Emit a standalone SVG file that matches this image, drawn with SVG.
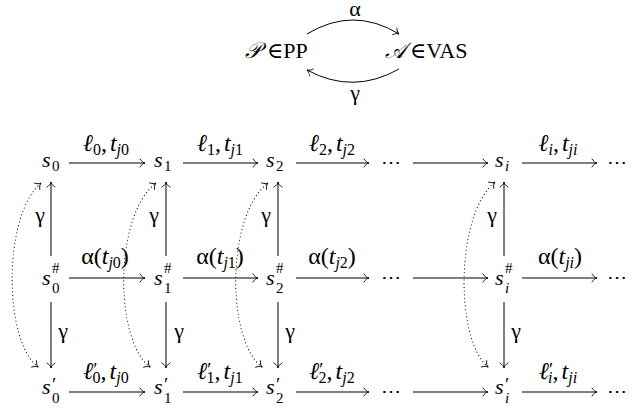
<svg xmlns="http://www.w3.org/2000/svg" width="641" height="413" viewBox="0 0 641 413">
<defs>
<marker id="to" markerUnits="userSpaceOnUse" markerWidth="12" markerHeight="12" viewBox="-7 -6 9 12" refX="0" refY="0" orient="auto-start-reverse">
<path d="M-5,-4 C-3.5,-1.5 -1.5,-0.3 0,0 C-1.5,0.3 -3.5,1.5 -5,4" fill="none" stroke="#000" stroke-width="0.9" stroke-linecap="round"/>
</marker>
<style>
text{font-family:'Liberation Serif','DejaVu Serif',serif;font-size:22px;fill:#000}
.lb{font-size:24px}
.i{font-style:italic}
.s{font-size:15px}
.lb .s{font-size:16px}
.pr{font-size:19px}
.dots{font-size:20px}
.ar{stroke:#000;stroke-width:1;fill:none;marker-end:url(#to)}
.dt{stroke:#000;stroke-width:1.1;fill:none;stroke-dasharray:0.1 3.6;stroke-linecap:round;marker-start:url(#to);marker-end:url(#to)}
</style>
</defs>
<rect width="641" height="413" fill="#fff"/>

<g id="P"><text x="245" y="58"><tspan class="i">𝒫</tspan><tspan dx="6">∈PP</tspan></text></g>
<g id="A"><text x="385" y="58"><tspan class="i">𝒜</tspan><tspan dx="4">∈VAS</tspan></text></g>

<g id="s0"><text class="i" x="42" y="167">s</text><text class="s" x="52" y="171">0</text></g>
<g id="s1"><text class="i" x="154" y="167">s</text><text class="s" x="164" y="171">1</text></g>
<g id="s2"><text class="i" x="266" y="167">s</text><text class="s" x="276" y="171">2</text></g>
<g id="d1"><text class="dots" x="391" y="169" text-anchor="middle">⋯</text></g>
<g id="si"><text class="i" x="495" y="167">s</text><text class="s i" x="505" y="171">i</text></g>
<g id="e1"><text class="dots" x="617" y="169" text-anchor="middle">⋯</text></g>

<g id="h0"><text class="i" x="42" y="285">s</text><text class="s" x="52" y="273">#</text><text class="s" x="52" y="293">0</text></g>
<g id="h1"><text class="i" x="154" y="285">s</text><text class="s" x="164" y="273">#</text><text class="s" x="164" y="293">1</text></g>
<g id="h2"><text class="i" x="266" y="285">s</text><text class="s" x="276" y="273">#</text><text class="s" x="276" y="293">2</text></g>
<g id="d2"><text class="dots" x="391" y="284" text-anchor="middle">⋯</text></g>
<g id="hi"><text class="i" x="495" y="285">s</text><text class="s" x="505" y="273">#</text><text class="s i" x="505" y="293">i</text></g>
<g id="e2"><text class="dots" x="617" y="284" text-anchor="middle">⋯</text></g>

<g id="p0"><text class="i" x="42" y="394">s</text><text class="pr" x="52" y="391">′</text><text class="s" x="52" y="403">0</text></g>
<g id="p1"><text class="i" x="154" y="394">s</text><text class="pr" x="164" y="391">′</text><text class="s" x="164" y="403">1</text></g>
<g id="p2"><text class="i" x="266" y="394">s</text><text class="pr" x="276" y="391">′</text><text class="s" x="276" y="403">2</text></g>
<g id="d3"><text class="dots" x="391" y="398" text-anchor="middle">⋯</text></g>
<g id="pi"><text class="i" x="495" y="394">s</text><text class="pr" x="505" y="391">′</text><text class="s i" x="505" y="403">i</text></g>
<g id="e3"><text class="dots" x="617" y="398" text-anchor="middle">⋯</text></g>

<g id="connectors">
<path class="ar" d="M307,34 Q353,6 399,34"/>
<path class="ar" d="M399,69 Q353,95 307,70"/>
<text x="355" y="16" text-anchor="middle">α</text>
<text x="355" y="100" text-anchor="middle">γ</text>

<line class="ar" x1="69" y1="163" x2="145" y2="163"/>
<line class="ar" x1="183" y1="163" x2="258" y2="163"/>
<line class="ar" x1="296" y1="163" x2="369" y2="163"/>
<line class="ar" x1="413" y1="163" x2="488" y2="163"/>
<line class="ar" x1="522" y1="163" x2="597" y2="163"/>

<line class="ar" x1="69" y1="278" x2="145" y2="278"/>
<line class="ar" x1="183" y1="278" x2="258" y2="278"/>
<line class="ar" x1="296" y1="278" x2="369" y2="278"/>
<line class="ar" x1="413" y1="278" x2="488" y2="278"/>
<line class="ar" x1="522" y1="278" x2="597" y2="278"/>

<line class="ar" x1="69" y1="392" x2="145" y2="392"/>
<line class="ar" x1="183" y1="392" x2="258" y2="392"/>
<line class="ar" x1="296" y1="392" x2="369" y2="392"/>
<line class="ar" x1="413" y1="392" x2="488" y2="392"/>
<line class="ar" x1="522" y1="392" x2="597" y2="392"/>

<text class="lb" x="106" y="151" text-anchor="middle"><tspan class="i">ℓ</tspan><tspan class="s" dy="4">0</tspan><tspan dy="-4">,</tspan><tspan class="i" dx="3">t</tspan><tspan class="s i" dy="4">j</tspan><tspan class="s">0</tspan></text>
<text class="lb" x="220" y="151" text-anchor="middle"><tspan class="i">ℓ</tspan><tspan class="s" dy="4">1</tspan><tspan dy="-4">,</tspan><tspan class="i" dx="3">t</tspan><tspan class="s i" dy="4">j</tspan><tspan class="s">1</tspan></text>
<text class="lb" x="332" y="151" text-anchor="middle"><tspan class="i">ℓ</tspan><tspan class="s" dy="4">2</tspan><tspan dy="-4">,</tspan><tspan class="i" dx="3">t</tspan><tspan class="s i" dy="4">j</tspan><tspan class="s">2</tspan></text>
<text class="lb" x="558" y="151" text-anchor="middle"><tspan class="i">ℓ</tspan><tspan class="s i" dy="4">i</tspan><tspan dy="-4">,</tspan><tspan class="i" dx="3">t</tspan><tspan class="s i" dy="4">ji</tspan></text>

<text class="lb" x="105" y="264" text-anchor="middle">α(<tspan class="i">t</tspan><tspan class="s i" dy="4">j</tspan><tspan class="s">0</tspan><tspan dy="-4">)</tspan></text>
<text class="lb" x="220" y="264" text-anchor="middle">α(<tspan class="i">t</tspan><tspan class="s i" dy="4">j</tspan><tspan class="s">1</tspan><tspan dy="-4">)</tspan></text>
<text class="lb" x="332" y="264" text-anchor="middle">α(<tspan class="i">t</tspan><tspan class="s i" dy="4">j</tspan><tspan class="s">2</tspan><tspan dy="-4">)</tspan></text>
<text class="lb" x="560" y="264" text-anchor="middle">α(<tspan class="i">t</tspan><tspan class="s i" dy="4">ji</tspan><tspan dy="-4">)</tspan></text>

<text class="lb" x="106" y="379" text-anchor="middle"><tspan class="i">ℓ</tspan><tspan class="pr" dy="-3">′</tspan><tspan class="s" dx="-5" dy="7">0</tspan><tspan dy="-4">,</tspan><tspan class="i" dx="3">t</tspan><tspan class="s i" dy="4">j</tspan><tspan class="s">0</tspan></text>
<text class="lb" x="220" y="379" text-anchor="middle"><tspan class="i">ℓ</tspan><tspan class="pr" dy="-3">′</tspan><tspan class="s" dx="-5" dy="7">1</tspan><tspan dy="-4">,</tspan><tspan class="i" dx="3">t</tspan><tspan class="s i" dy="4">j</tspan><tspan class="s">1</tspan></text>
<text class="lb" x="332" y="379" text-anchor="middle"><tspan class="i">ℓ</tspan><tspan class="pr" dy="-3">′</tspan><tspan class="s" dx="-5" dy="7">2</tspan><tspan dy="-4">,</tspan><tspan class="i" dx="3">t</tspan><tspan class="s i" dy="4">j</tspan><tspan class="s">2</tspan></text>
<text class="lb" x="558" y="379" text-anchor="middle"><tspan class="i">ℓ</tspan><tspan class="pr" dy="-3">′</tspan><tspan class="s i" dx="-5" dy="7">i</tspan><tspan dy="-4">,</tspan><tspan class="i" dx="3">t</tspan><tspan class="s i" dy="4">ji</tspan></text>

<line class="ar" x1="51" y1="256" x2="51" y2="182"/>
<line class="ar" x1="166" y1="256" x2="166" y2="182"/>
<line class="ar" x1="278" y1="256" x2="278" y2="182"/>
<line class="ar" x1="504" y1="256" x2="504" y2="182"/>
<line class="ar" x1="51" y1="302" x2="51" y2="368"/>
<line class="ar" x1="166" y1="302" x2="166" y2="368"/>
<line class="ar" x1="278" y1="302" x2="278" y2="368"/>
<line class="ar" x1="504" y1="302" x2="504" y2="368"/>

<text x="40" y="222" text-anchor="middle">γ</text>
<text x="154" y="222" text-anchor="middle">γ</text>
<text x="266" y="222" text-anchor="middle">γ</text>
<text x="492" y="222" text-anchor="middle">γ</text>
<text x="63" y="338" text-anchor="middle">γ</text>
<text x="179" y="338" text-anchor="middle">γ</text>
<text x="290" y="338" text-anchor="middle">γ</text>
<text x="516" y="338" text-anchor="middle">γ</text>

<path class="dt" d="M38,367 C3,340 3,215 41,183"/>
<path class="dt" d="M150,367 C114,340 114,215 156,183"/>
<path class="dt" d="M262,367 C226,340 226,215 268,183"/>
<path class="dt" d="M488,367 C455,340 455,215 495,182"/>
</g>
</svg>
